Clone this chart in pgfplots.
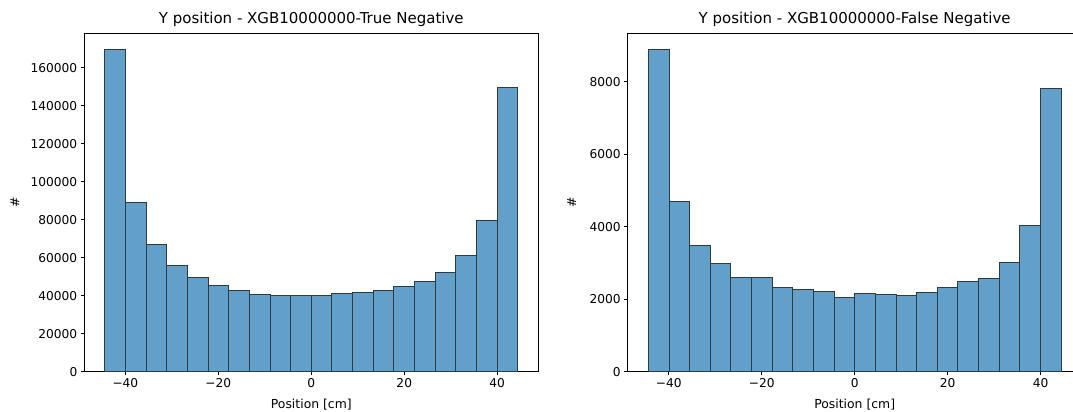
\documentclass[border=0pt]{standalone}
\usepackage{fontspec}
\setmainfont{DejaVu Sans}
\usepackage{pgfplots}
\usepackage{pgfplotstable}
\pgfplotsset{compat=1.18}

\definecolor{barfill}{HTML}{62A0CA}
\definecolor{baredge}{HTML}{2E3A42}

% bin left edges and counts (last row closes the final bin)
\pgfplotstableread{
x       y
-44.40  169650
-39.96  89120
-35.52  66840
-31.08  55960
-26.64  49650
-22.20  45260
-17.76  42810
-13.32  40880
-8.88   40350
-4.44   40000
0.00    40350
4.44    41050
8.88    41930
13.32   42810
17.76   44740
22.20   47720
26.64   52460
31.08   61230
35.52   79650
39.96   149470
44.40   149470
}\truenegative

\pgfplotstableread{
x       y
-44.40  8892
-39.96  4699
-35.52  3476
-31.08  2979
-26.64  2593
-22.20  2593
-17.76  2326
-13.32  2271
-8.88   2216
-4.44   2051
0.00    2161
4.44    2143
8.88    2115
13.32   2189
17.76   2326
22.20   2501
26.64   2575
31.08   3007
35.52   4046
39.96   7807
44.40   7807
}\falsenegative

\pgfplotsset{
  every axis title shift=0pt,
  histax/.style={
    width=454pt, height=338.4pt, scale only axis,
    xmin=-48.84, xmax=48.84, ymin=0,
    axis line style={black, line width=0.8pt},
    tick align=outside, tick pos=left,
    major tick length=3.5pt,
    tick style={black, line width=0.8pt},
    xtick={-40,-20,0,20,40},
    xticklabels={−40,−20,0,20,40},
    scaled y ticks=false,
    /pgf/number format/assume math mode=true,
    /pgf/number format/fixed,
    /pgf/number format/1000 sep={},
    ticklabel style={font=\fontsize{12.2}{14}\selectfont},
    label style={font=\fontsize{12.4}{14}\selectfont},
    title style={font=\fontsize{15}{18}\selectfont,
      at={(axis description cs:0.5,1.0414)}, anchor=center},
    xlabel={Position [cm]},
    xlabel style={at={(axis description cs:0.5,-0.0963)}, anchor=center},
    ylabel={\#},
  },
  histbar/.style={ybar interval, fill=barfill, draw=baredge, line width=0.9pt},
}

\begin{document}
\begin{tikzpicture}
\path[use as bounding box] (0,0) rectangle (1073pt,412pt);
\clip (0,0) rectangle (1073pt,412pt);

\begin{axis}[histax,
  at={(84.3pt,40.3pt)}, anchor=south west,
  ymax=178130,
  ytick={0,20000,40000,60000,80000,100000,120000,140000,160000},
  ylabel style={at={(axis description cs:-0.1526,0.5)}, anchor=center},
  title={Y position - XGB10000000-True Negative}]
\addplot[histbar] table[x=x,y=y] {\truenegative};
\end{axis}

\begin{axis}[histax,
  at={(627.7pt,40.3pt)}, anchor=south west,
  ymax=9337,
  ytick={0,2000,4000,6000,8000},
  ylabel style={at={(axis description cs:-0.1233,0.5)}, anchor=center},
  title={Y position - XGB10000000-False Negative}]
\addplot[histbar] table[x=x,y=y] {\falsenegative};
\end{axis}
\end{tikzpicture}
\end{document}
